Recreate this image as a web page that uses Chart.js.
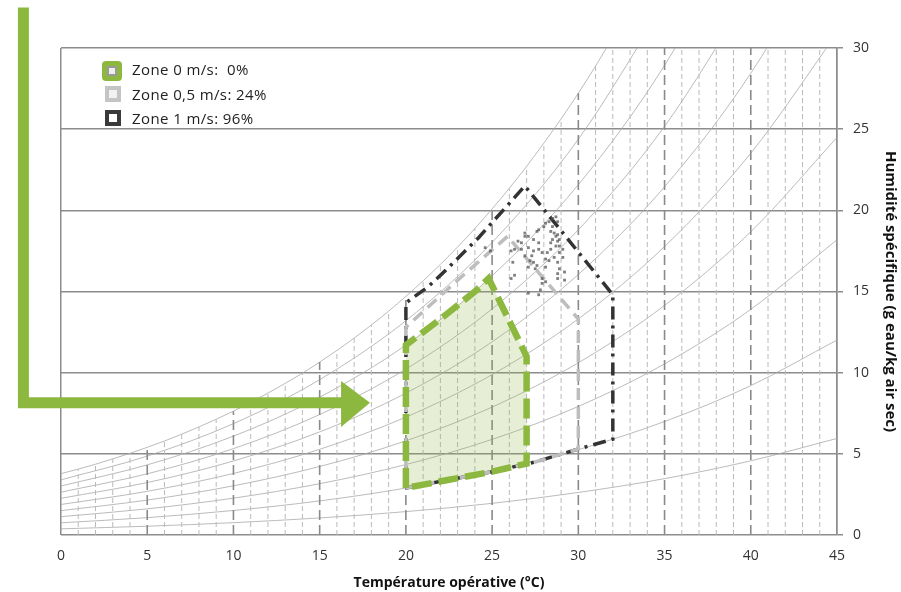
<!DOCTYPE html>
<html>
<head>
<meta charset="utf-8">
<script src="https://cdn.jsdelivr.net/npm/chart.js@4/dist/chart.umd.min.js"></script>
<style>
  body { margin: 0; background: #fff; }
  #wrap { position: relative; width: 901px; height: 592px; }
  .leg { position: absolute; left: 132px; font: 15px "Open Sans", sans-serif; letter-spacing: 0.4px; color: #222; white-space: pre; }
  .ico { position: absolute; box-sizing: border-box; }
</style>
</head>
<body>
<div id="wrap">
  <canvas id="psychro" width="901" height="592"></canvas>
  <div class="ico" style="left:102px;top:61px;width:20px;height:20px;border-radius:4px;background:#8db83f;"></div>
  <div class="ico" style="left:107px;top:66px;width:10px;height:10px;border:2px solid #9a9a9a;background:#eee;"></div>
  <div class="ico" style="left:105px;top:86px;width:16px;height:16px;border:4px solid #c4c4c4;background:#f2f2f2;"></div>
  <div class="ico" style="left:105px;top:110px;width:16px;height:16px;border:4px solid #3a3a3a;background:#fff;"></div>
  <div class="leg" style="top:59px;">Zone 0 m/s:  0%</div>
  <div class="leg" style="top:84px;">Zone 0,5 m/s: 24%</div>
  <div class="leg" style="top:108px;">Zone 1 m/s: 96%</div>
</div>
<script>
// températures des courbes d'humidité relative (pas de 5 °C)
var tempGrid = [0, 5, 10, 15, 20, 25, 30, 35, 40, 45];
var rh10 = [0.38, 0.54, 0.76, 1.05, 1.44, 1.95, 2.62, 3.47, 4.57, 5.95];
var rh20 = [0.75, 1.07, 1.51, 2.10, 2.89, 3.92, 5.26, 6.99, 9.20, 12.01];
var rh30 = [1.13, 1.61, 2.27, 3.16, 4.34, 5.89, 7.92, 10.54, 13.90, 18.19];
var rh40 = [1.50, 2.15, 3.03, 4.22, 5.80, 7.88, 10.61, 14.14, 18.68, 24.49];
var rh50 = [1.88, 2.69, 3.79, 5.28, 7.26, 9.88, 13.31, 17.77, 23.52, 30.91];
var rh60 = [2.26, 3.23, 4.56, 6.35, 8.74, 11.90, 16.05, 21.45, 28.44, 37.47];
var rh70 = [2.64, 3.77, 5.32, 7.42, 10.22, 13.93, 18.80, 25.17, 33.44];
var rh80 = [3.02, 4.32, 6.09, 8.49, 11.70, 15.97, 21.58, 28.93, 38.51];
var rh90 = [3.40, 4.86, 6.86, 9.57, 13.20, 18.02, 24.38, 32.73];
// courbe de saturation, 0 à 32 °C par pas de 1
var satHum = [3.78, 4.06, 4.36, 4.69, 5.03, 5.40, 5.79, 6.21, 6.66, 7.13, 7.63, 8.17, 8.74, 9.34, 9.97, 10.65,
  11.37, 12.13, 12.94, 13.79, 14.70, 15.66, 16.67, 17.74, 18.88, 20.09, 21.36, 22.71, 24.14, 25.63, 27.22, 28.89, 30.66];
var yMax = 30;

// zones de confort [T, w]
var zone0 = [[20, 2.9], [20, 11.7], [22, 13.3], [24, 15.0], [24.8, 15.8], [27, 11.0], [27, 4.4], [25, 3.9], [22.5, 3.4], [20, 2.9]];
var zone05 = [[20, 2.9], [20, 12.8], [23, 15.7], [25.9, 18.4], [30, 13.3], [30, 5.3], [27.5, 4.5], [25, 3.9], [22.5, 3.4], [20, 2.9]];
var zone1 = [[20, 2.9], [20, 14.3], [21.3, 15.3], [22.3, 16.3], [24.2, 18.3], [26.9, 21.5], [32, 14.8], [32, 5.9], [30, 5.3], [27.5, 4.5], [25, 3.9], [22.5, 3.4], [20, 2.9]];

// mesures
var measT = [24.6, 24.9, 26.9, 26.9, 27.6, 27.7, 28.0, 28.1, 28.3, 28.5, 28.7, 28.8, 28.5, 28.4, 28.6, 28.7, 28.8,
  28.5, 28.8, 28.9, 28.4, 28.7, 28.9, 29.1, 28.9, 29.1, 28.6, 28.3, 28.8, 28.9, 28.8, 29.2, 28.8, 29.2,
  27.1, 27.4, 27.7, 26.5, 26.7, 26.3, 26.1, 26.7, 27.1, 27.4, 27.7, 27.9, 27.3, 26.9, 27.2, 27.4, 27.6,
  27.1, 27.5, 28.1, 26.2, 26.3, 26.1, 27.9, 28.1, 27.9, 27.8, 27.1, 27.7, 28.1, 28.2, 28.4];
var measW = [17.7, 17.5, 18.6, 18.4, 18.7, 18.8, 19.0, 19.2, 19.3, 19.5, 19.6, 19.3, 19.0, 18.7, 18.6, 18.4, 18.5,
  18.2, 18.1, 18.2, 18.0, 17.8, 17.8, 17.6, 17.4, 17.1, 17.1, 16.9, 16.8, 16.4, 16.1, 16.2, 15.8, 15.7,
  18.4, 18.2, 18.0, 18.1, 18.0, 17.6, 17.5, 17.6, 17.7, 17.5, 17.6, 17.4, 17.2, 17.2, 16.9, 16.8, 16.6,
  16.5, 16.4, 16.5, 16.8, 16.0, 15.8, 15.8, 15.6, 15.5, 15.1, 14.9, 14.8, 17.0, 17.4, 17.6];

// flèche verte (tracée de la pointe vers le haut)
var arrowShaft = [[16.4, 8.14], [-2.18, 8.14], [-2.18, 32.5]];
var arrowHead = [[16.24, 9.49], [17.92, 8.14], [16.24, 6.66], [16.24, 9.49]];

var green = '#8db83f';

function pts(arr) {
	var out = [];
	for (var i = 0; i < arr.length; i++) out.push({x: arr[i][0], y: arr[i][1]});
	return out;
}

function curve(vals) {
	var out = [];
	for (var i = 0; i < vals.length; i++) out.push({x: tempGrid[i], y: vals[i]});
	return out;
}

function curveDs(data) {
	return {data: data, showLine: true, borderColor: '#a9a9a9', borderWidth: 0.8, pointRadius: 0,
		cubicInterpolationMode: 'monotone', order: 20};
}

// lignes verticales (sous la courbe de saturation)
var minorV = [], majorV = [];
for (var t = 1; t < 45; t++) {
	var lineTop = t < satHum.length ? satHum[t] : yMax;
	var target = (t % 5 == 0) ? majorV : minorV;
	target.push({x: t, y: 0}, {x: t, y: lineTop}, {x: t, y: null});
}

var satCurve = [];
for (var i = 0; i < satHum.length; i++) satCurve.push({x: i, y: satHum[i]});

var meas = [];
for (var i = 0; i < measT.length; i++) meas.push({x: measT[i], y: measW[i]});

var datasets = [
	curveDs(curve(rh10)), curveDs(curve(rh20)), curveDs(curve(rh30)), curveDs(curve(rh40)), curveDs(curve(rh50)),
	curveDs(curve(rh60)), curveDs(curve(rh70)), curveDs(curve(rh80)), curveDs(curve(rh90)), curveDs(satCurve),
	{data: minorV, showLine: true, spanGaps: false, borderColor: '#bababa', borderWidth: 1, borderDash: [5, 3], pointRadius: 0, order: 19},
	{data: majorV, showLine: true, spanGaps: false, borderColor: '#8a8a8a', borderWidth: 1.6, borderDash: [10, 5], pointRadius: 0, order: 18},
	{data: pts(zone0), showLine: true, fill: 'shape', backgroundColor: 'rgba(141,184,63,0.22)', borderWidth: 0, pointRadius: 0, order: 10},
	{data: pts(zone1), showLine: true, borderColor: '#333', borderWidth: 3.5, borderDash: [13, 6, 3, 6], pointRadius: 0, order: 6},
	{data: pts(zone05), showLine: true, borderColor: '#bdbdbd', borderWidth: 3.5, borderDash: [12, 7], pointRadius: 0, order: 5},
	{data: meas, showLine: false, pointStyle: 'rect', pointRadius: 2, backgroundColor: 'rgba(85,85,85,0.75)', borderWidth: 0, order: 4},
	{data: pts(zone0), showLine: true, borderColor: green, borderWidth: 6.5, borderDash: [20, 7], pointRadius: 0, order: 2},
	{data: pts(arrowShaft), showLine: true, clip: false, borderColor: green, borderWidth: 11, borderJoinStyle: 'miter', borderCapStyle: 'butt', pointRadius: 0, order: 1},
	{data: pts(arrowHead), showLine: true, fill: 'shape', backgroundColor: green, borderWidth: 0, pointRadius: 0, order: 0}
];

var tickFont = {family: '"Open Sans", sans-serif', size: 14};

new Chart(document.getElementById('psychro'), {
	type: 'scatter',
	data: {datasets: datasets},
	options: {
		responsive: false,
		animation: false,
		layout: {padding: {left: 61, top: 48}},
		plugins: {legend: {display: false}, tooltip: {enabled: false}},
		scales: {
			x: {
				type: 'linear', min: 0, max: 45, position: 'bottom',
				ticks: {stepSize: 5, color: '#333', font: tickFont, padding: 13, maxRotation: 0},
				grid: {
					color: function (c) { return (c.tick && (c.tick.value == 0 || c.tick.value == 45)) ? '#8c8c8c' : 'rgba(0,0,0,0)'; },
					lineWidth: 1.5, drawTicks: false
				},
				border: {display: false},
				title: {display: true, text: 'Température opérative (°C)', color: '#111',
					font: {family: '"Open Sans", sans-serif', size: 14, weight: 'bold'}, padding: {top: 2, bottom: 1}},
				afterFit: function (s) { s.height = 57; }
			},
			y: {
				type: 'linear', min: 0, max: yMax, position: 'right',
				ticks: {stepSize: 5, color: '#333', font: tickFont, padding: 10},
				grid: {color: '#8c8c8c', lineWidth: 1.5, tickLength: 6},
				border: {display: true, color: '#8c8c8c', width: 1.5},
				title: {display: true, text: 'Humidité spécifique (g eau/kg air sec)', color: '#111',
					font: {family: '"Open Sans", sans-serif', size: 15, weight: 'bold'}, padding: {top: 2, bottom: 9}},
				afterFit: function (s) { s.width = 64; }
			}
		}
	}
});
</script>
</body>
</html>
